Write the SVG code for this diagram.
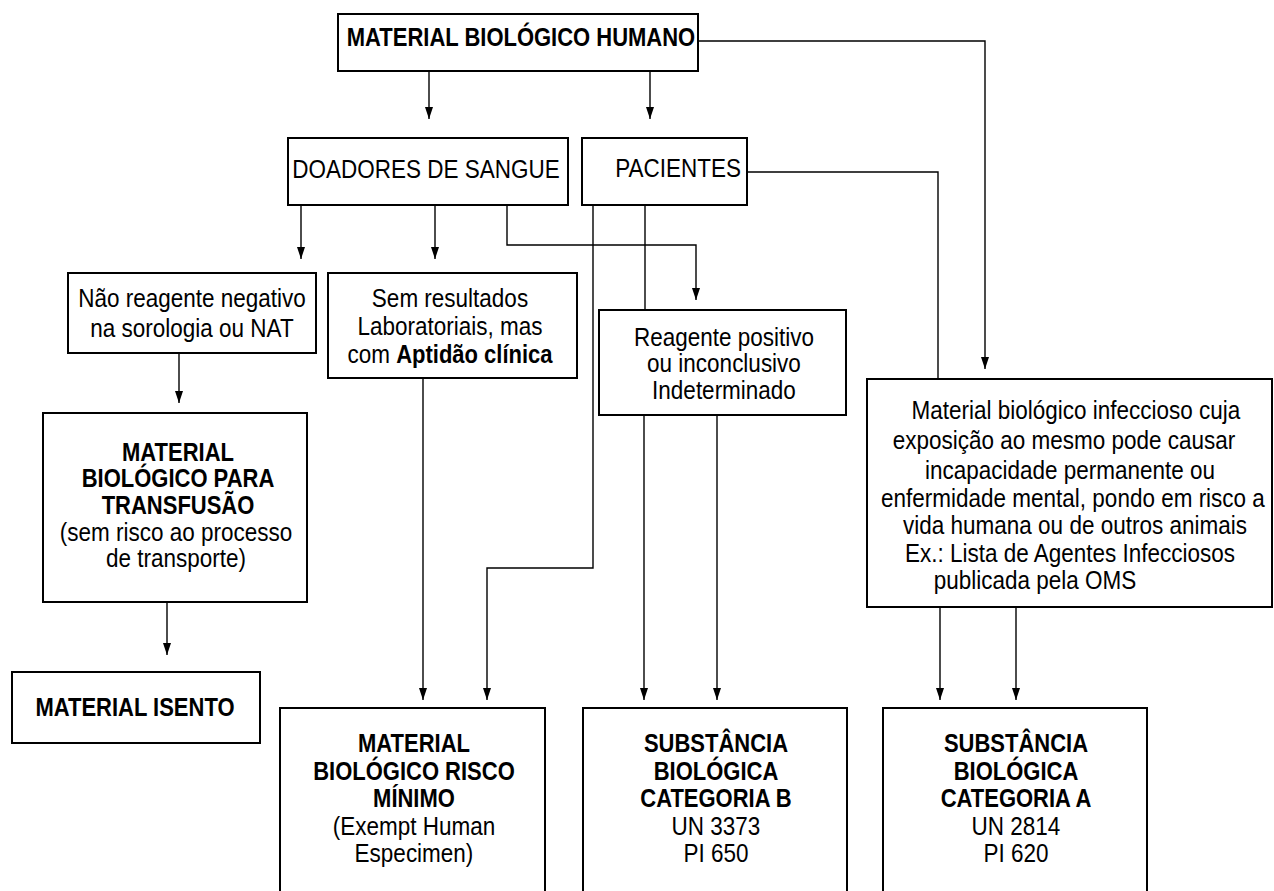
<svg xmlns="http://www.w3.org/2000/svg" width="1274" height="891" viewBox="0 0 1274 891">
<style>
.box{fill:#fff;stroke:#000;stroke-width:2}
.t{font-family:"Liberation Sans",Arial,sans-serif;font-size:22.5px;fill:#000;text-anchor:middle;transform-box:fill-box;transform-origin:50% 50%;transform:scaleY(1.15)}
.b{font-weight:bold;font-size:22px}
.c{fill:none;stroke:#000;stroke-width:1.4}
</style>
<defs>
<marker id="ah" markerUnits="userSpaceOnUse" viewBox="0 0 12 8" refX="12" refY="4" markerWidth="12" markerHeight="8" orient="auto">
<path d="M0,0 L12,4 L0,8 z" fill="#000"/>
</marker>
</defs>
<rect width="1274" height="891" fill="#fff"/>
<g id="connectors">
<path class="c" d="M429,71 V119" marker-end="url(#ah)"/>
<path class="c" d="M650,71 V119" marker-end="url(#ah)"/>
<path class="c" d="M698,41 H985 V369" marker-end="url(#ah)"/>
<path class="c" d="M301,205 V259" marker-end="url(#ah)"/>
<path class="c" d="M435,205 V259" marker-end="url(#ah)"/>
<path class="c" d="M507,205 V245 H696 V300" marker-end="url(#ah)"/>
<path class="c" d="M747,172 H938 V379"/>
<path class="c" d="M593,193 V568 H487 V700" marker-end="url(#ah)"/>
<path class="c" d="M645,205 V310"/>
<path class="c" d="M179,353 V403" marker-end="url(#ah)"/>
<path class="c" d="M423,378 V700" marker-end="url(#ah)"/>
<path class="c" d="M644,415 V700" marker-end="url(#ah)"/>
<path class="c" d="M717,415 V700" marker-end="url(#ah)"/>
<path class="c" d="M940,607 V700" marker-end="url(#ah)"/>
<path class="c" d="M1016,607 V700" marker-end="url(#ah)"/>
<path class="c" d="M167,602 V655" marker-end="url(#ah)"/>
</g>
<g id="humano">
<rect class="box" x="338" y="14" width="360" height="57"/>
<text class="t b" x="521" y="45">MATERIAL BIOLÓGICO HUMANO</text>
</g>
<g id="doadores">
<rect class="box" x="288" y="138" width="280" height="67"/>
<text class="t" x="426" y="177">DOADORES DE SANGUE</text>
</g>
<g id="pacientes">
<rect class="box" x="582" y="138" width="165" height="67"/>
<text class="t" x="741" y="176" style="text-anchor:end">PACIENTES</text>
</g>
<g id="nao-reagente">
<rect class="box" x="68" y="273" width="248" height="80"/>
<text class="t" x="192" y="306">Não reagente negativo</text>
<text class="t" x="192" y="336">na sorologia ou NAT</text>
</g>
<g id="sem-resultados">
<rect class="box" x="328" y="273" width="249" height="105"/>
<text class="t" x="450" y="306">Sem resultados</text>
<text class="t" x="450" y="334">Laboratoriais, mas</text>
<text class="t" x="450" y="362">com <tspan class="b">Aptidão clínica</tspan></text>
</g>
<g id="reagente-positivo">
<rect class="box" x="599" y="310" width="247" height="105"/>
<text class="t" x="724" y="345">Reagente positivo</text>
<text class="t" x="724" y="371">ou inconclusivo</text>
<text class="t" x="724" y="398">Indeterminado</text>
</g>
<g id="infeccioso">
<rect class="box" x="867" y="379" width="405" height="228"/>
<text class="t" x="1076" y="418">Material biológico infeccioso cuja</text>
<text class="t" x="1064" y="448">exposição ao mesmo pode causar</text>
<text class="t" x="1070" y="478">incapacidade permanente ou</text>
<text class="t" x="1073" y="506">enfermidade mental, pondo em risco a</text>
<text class="t" x="1075" y="533">vida humana ou de outros animais</text>
<text class="t" x="1070" y="561">Ex.: Lista de Agentes Infecciosos</text>
<text class="t" x="1035" y="588">publicada pela OMS</text>
</g>
<g id="transfusao">
<rect class="box" x="43" y="413" width="264" height="189"/>
<text class="t b" x="178" y="460">MATERIAL</text>
<text class="t b" x="178" y="486">BIOLÓGICO PARA</text>
<text class="t b" x="178" y="513">TRANSFUSÃO</text>
<text class="t" x="176" y="540">(sem risco ao processo</text>
<text class="t" x="176" y="566">de transporte)</text>
</g>
<g id="isento">
<rect class="box" x="12" y="672" width="248" height="71"/>
<text class="t b" x="135" y="715">MATERIAL ISENTO</text>
</g>
<g id="risco-minimo">
<rect class="box" x="280" y="708" width="265" height="200"/>
<text class="t b" x="414" y="751">MATERIAL</text>
<text class="t b" x="414" y="779">BIOLÓGICO RISCO</text>
<text class="t b" x="414" y="806">MÍNIMO</text>
<text class="t" x="414" y="834">(Exempt Human</text>
<text class="t" x="414" y="861">Especimen)</text>
</g>
<g id="categoria-b">
<rect class="box" x="583" y="708" width="264" height="200"/>
<text class="t b" x="716" y="751">SUBSTÂNCIA</text>
<text class="t b" x="716" y="779">BIOLÓGICA</text>
<text class="t b" x="716" y="806">CATEGORIA B</text>
<text class="t" x="716" y="834">UN 3373</text>
<text class="t" x="716" y="861">PI 650</text>
</g>
<g id="categoria-a">
<rect class="box" x="883" y="708" width="264" height="200"/>
<text class="t b" x="1016" y="751">SUBSTÂNCIA</text>
<text class="t b" x="1016" y="779">BIOLÓGICA</text>
<text class="t b" x="1016" y="806">CATEGORIA A</text>
<text class="t" x="1016" y="834">UN 2814</text>
<text class="t" x="1016" y="861">PI 620</text>
</g>
</svg>
